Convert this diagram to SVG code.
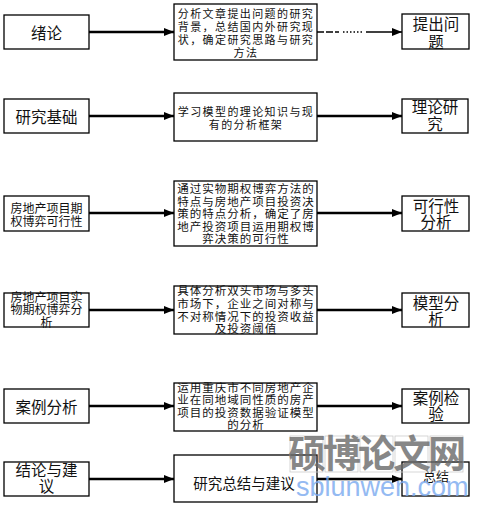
<svg xmlns="http://www.w3.org/2000/svg" width="477" height="506" viewBox="0 0 477 506">
<defs>
<style>
.box{fill:#fff;stroke:#000;stroke-width:1.3}
.edge{stroke:#000;stroke-width:2.4;fill:none}
.t{font-family:"Noto Sans CJK SC","Noto Sans",sans-serif;fill:#111;text-anchor:middle;dominant-baseline:central}
.big{font-size:15.5px}
.mid{font-size:12px}
.sm{font-size:11px;letter-spacing:1.4px}
.sm2{font-size:11.5px;letter-spacing:1px}
.wm{font-family:"Noto Sans CJK SC",sans-serif;font-weight:700;font-size:38px;fill:#6a6a6a;opacity:0.8;text-anchor:middle}
.wm2{font-family:"Liberation Sans",sans-serif;font-size:27px;fill:#7aaaf0;opacity:0.8}
</style>
<marker id="ah" viewBox="0 0 10 8" refX="10" refY="4" markerWidth="10" markerHeight="8" markerUnits="userSpaceOnUse" orient="auto">
<path d="M0,0 L10,4 L0,8 Z" fill="#000"/>
</marker>
</defs>
<rect width="477" height="506" fill="#fff"/>

<g id="connectors">
<line class="edge" x1="89" y1="32" x2="174" y2="32" stroke-width="1.6" marker-end="url(#ah)"/>
<line x1="317" y1="32" x2="339" y2="32" stroke="#000" stroke-width="1.3" stroke-dasharray="7 2"/>
<line x1="343" y1="32" x2="363" y2="32" stroke="#000" stroke-width="1.3" stroke-dasharray="1.5 2"/>
<line x1="366" y1="32" x2="402" y2="32" stroke="#000" stroke-width="1.6" marker-end="url(#ah)"/>
<line class="edge" x1="89" y1="116" x2="174" y2="116" marker-end="url(#ah)"/>
<line class="edge" x1="317" y1="116" x2="402" y2="116" marker-end="url(#ah)"/>
<line class="edge" x1="89" y1="213" x2="174" y2="213" stroke-width="1.8" marker-end="url(#ah)"/>
<line class="edge" x1="317" y1="213" x2="402" y2="213" stroke-width="1.8" marker-end="url(#ah)"/>
<line class="edge" x1="89" y1="310" x2="174" y2="310" marker-end="url(#ah)"/>
<line class="edge" x1="317" y1="310" x2="402" y2="310" marker-end="url(#ah)"/>
<line class="edge" x1="89" y1="406" x2="174" y2="406" stroke-width="1.8" marker-end="url(#ah)"/>
<line class="edge" x1="317" y1="406" x2="402" y2="406" stroke-width="1.8" marker-end="url(#ah)"/>
<line class="edge" x1="89" y1="479" x2="174" y2="479" marker-end="url(#ah)"/>
<line class="edge" x1="317" y1="479" x2="402" y2="479" stroke-width="1.8" marker-end="url(#ah)"/>
</g>

<g id="n-xulun"><rect class="box" x="4" y="15" width="85" height="34"/><text class="t big" x="46.5" y="32">绪论</text></g>
<g id="n-m1"><rect class="box" x="174" y="4" width="143" height="56"/>
<text class="t sm"><tspan x="246" y="13">分析文章提出问题的研究</tspan><tspan x="246" y="26">背景，总结国内外研究现</tspan><tspan x="246" y="39">状，确定研究思路与研究</tspan><tspan x="246" y="52">方法</tspan></text></g>
<g id="n-r1"><rect class="box" x="402" y="14" width="67" height="35"/><text class="t big"><tspan x="436" y="23">提出问</tspan><tspan x="436" y="41">题</tspan></text></g>

<g id="n-jichu"><rect class="box" x="4" y="99" width="85" height="34" stroke-width="2"/><text class="t big" x="46.5" y="116">研究基础</text></g>
<g id="n-m2"><rect class="box" x="174" y="93" width="143" height="48" stroke-width="2"/>
<text class="t sm"><tspan x="246" y="111">学习模型的理论知识与现</tspan><tspan x="246" y="124">有的分析框架</tspan></text></g>
<g id="n-r2"><rect class="box" x="402" y="99" width="66" height="34" stroke-width="2"/><text class="t big"><tspan x="435" y="106">理论研</tspan><tspan x="435" y="123">究</tspan></text></g>

<g id="n-kexing"><rect class="box" x="4" y="196" width="85" height="35"/><text class="t mid"><tspan x="46.5" y="207">房地产项目期</tspan><tspan x="46.5" y="220">权博弈可行性</tspan></text></g>
<g id="n-m3"><rect class="box" x="174" y="181" width="143" height="65" stroke-width="1.8"/>
<text class="t sm2"><tspan x="246" y="188">通过实物期权博弈方法的</tspan><tspan x="246" y="200.5">特点与房地产项目投资决</tspan><tspan x="246" y="213">策的特点分析，确定了房</tspan><tspan x="246" y="225.5">地产投资项目运用期权博</tspan><tspan x="246" y="238">弈决策的可行性</tspan></text></g>
<g id="n-r3"><rect class="box" x="402" y="196" width="67" height="35"/><text class="t big"><tspan x="436" y="205">可行性</tspan><tspan x="436" y="221">分析</tspan></text></g>

<g id="n-shiwu"><rect class="box" x="4" y="293" width="85" height="34" stroke-width="2"/><text class="t mid"><tspan x="46.5" y="296">房地产项目实</tspan><tspan x="46.5" y="308">物期权博弈分</tspan><tspan x="46.5" y="321">析</tspan></text></g>
<g id="n-m4"><rect class="box" x="174" y="286" width="143" height="48" stroke-width="2"/>
<text class="t sm2"><tspan x="246" y="290">具体分析双头市场与多头</tspan><tspan x="246" y="303">市场下，企业之间对称与</tspan><tspan x="246" y="315.5">不对称情况下的投资收益</tspan><tspan x="246" y="327.5">及投资阈值</tspan></text></g>
<g id="n-r4"><rect class="box" x="402" y="293" width="67" height="34" stroke-width="2"/><text class="t big"><tspan x="436" y="302">模型分</tspan><tspan x="436" y="318">析</tspan></text></g>

<g id="n-anli"><rect class="box" x="4" y="389" width="85" height="34"/><text class="t big" x="46.5" y="406">案例分析</text></g>
<g id="n-m5"><rect class="box" x="174" y="383" width="143" height="48" stroke-width="1.8"/>
<text class="t sm2"><tspan x="246" y="386.5">运用重庆市不同房地产企</tspan><tspan x="246" y="399">业在同地域同性质的房产</tspan><tspan x="246" y="411.5">项目的投资数据验证模型</tspan><tspan x="246" y="423.5">的分析</tspan></text></g>
<g id="n-r5"><rect class="box" x="402" y="389" width="67" height="34"/><text class="t big"><tspan x="436" y="397">案例检</tspan><tspan x="436" y="413">验</tspan></text></g>

<g id="n-jielun"><rect class="box" x="4" y="462" width="85" height="34" stroke-width="2"/><text class="t big"><tspan x="46.5" y="469">结论与建</tspan><tspan x="46.5" y="485">议</tspan></text></g>
<g id="n-m6"><rect class="box" x="174" y="455" width="143" height="47" stroke-width="2"/><text class="t" x="244" y="482" font-size="14.5px">研究总结与建议</text></g>
<g id="n-r6"><rect class="box" x="402" y="462" width="67" height="34" stroke-width="2"/><text class="t" x="436" y="475" font-size="13px" fill="#555">总结</text></g>

<g id="watermark">
<g fill="none" stroke="#ccc" stroke-width="0.8">
<rect x="290" y="436" width="33" height="36"/><rect x="325" y="436" width="33" height="36"/><rect x="360" y="436" width="33" height="36"/><rect x="395" y="436" width="33" height="36"/><rect x="430" y="436" width="33" height="36"/>
</g>
<text class="wm" x="307" y="467">硕</text><text class="wm" x="342" y="467">博</text><text class="wm" x="377" y="467">论</text><text class="wm" x="412" y="467">文</text><text class="wm" x="447" y="467">网</text>
<text class="wm2" x="296" y="496">sblunwen.com</text>
</g>
</svg>
